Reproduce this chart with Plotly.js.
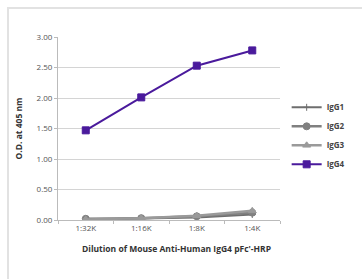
<!DOCTYPE html>
<html><head><meta charset="utf-8">
<script src="https://cdn.plot.ly/plotly-3.0.1.min.js"></script>
<style>
html,body{margin:0;padding:0;background:#fff;overflow:hidden;}
#frame{position:absolute;left:7px;top:7px;width:420px;height:340px;border:2px solid #e2e2e2;}
#chart{position:absolute;left:0;top:0;width:362px;height:279px;}
</style></head>
<body>
<div id="frame"></div>
<div id="chart"></div>
<script>
const categories = ["1:32K", "1:16K", "1:8K", "1:4K"];
const seriesNames = ["IgG1", "IgG2", "IgG3", "IgG4"];
const igg1 = [0.01, 0.02, 0.04, 0.09];
const igg2 = [0.02, 0.03, 0.06, 0.12];
const igg3 = [0.01, 0.03, 0.07, 0.15];
const igg4 = [1.47, 2.01, 2.53, 2.78];
const yTicks = [0, 0.5, 1, 1.5, 2, 2.5, 3];
const yTickText = ["0.00", "0.50", "1.00", "1.50", "2.00", "2.50", "3.00"];

const styles = [
  {color: "#6e6e6e", symbol: "cross-thin-open", size: 5, lw: 2},
  {color: "#808080", symbol: "circle", size: 7, lw: 2.5},
  {color: "#9a9a9a", symbol: "triangle-up", size: 7, lw: 2.5},
  {color: "#4a1a9c", symbol: "square", size: 7, lw: 2}
];
const values = [igg1, igg2, igg3, igg4];
const traces = values.map((v, i) => ({
  x: categories, y: v, name: seriesNames[i], type: "scatter", mode: "lines+markers",
  line: {color: styles[i].color, width: styles[i].lw},
  marker: {color: styles[i].color, symbol: styles[i].symbol, size: styles[i].size,
           line: {color: styles[i].color, width: 1}}
}));

const font = "'Open Sans', 'DejaVu Sans', sans-serif";
const layout = {
  width: 362, height: 279,
  margin: {l: 58, r: 59, t: 37, b: 59},
  paper_bgcolor: "rgba(0,0,0,0)", plot_bgcolor: "#fff",
  font: {family: font, size: 8, color: "#555"},
  showlegend: true,
  legend: {x: 1.03, xanchor: "left", y: 0.46, yanchor: "middle",
           font: {family: font, size: 8, color: "#444", weight: "bold"},
           itemwidth: 30, tracegroupgap: 0, bgcolor: "rgba(0,0,0,0)"},
  xaxis: {type: "category", range: [-0.5, 3.5], showgrid: false, zeroline: false,
          showline: true, linecolor: "#bbb", linewidth: 1,
          ticks: "outside", tickson: "boundaries", ticklen: 3, tickcolor: "#bbb",
          tickfont: {family: font, size: 8, color: "#555"}},
  yaxis: {range: [0, 3], tickvals: yTicks, ticktext: yTickText, showgrid: true,
          gridcolor: "#d4d4d4", gridwidth: 1, zeroline: false,
          showline: true, linecolor: "#bbb", linewidth: 1,
          ticks: "outside", ticklen: 3, tickcolor: "#bbb",
          tickfont: {family: font, size: 8, color: "#555"},
          title: {text: "O.D. at 405 nm", standoff: 12,
                  font: {family: font, size: 8.5, color: "#333", weight: "bold"}}},
  annotations: [{text: "Dilution of Mouse Anti-Human IgG4 pFc'-HRP", xref: "paper", yref: "paper",
                 x: 0.535, y: -0.155, xanchor: "center", yanchor: "middle", showarrow: false,
                 font: {family: font, size: 8.5, color: "#333", weight: "bold"}}]
};
Plotly.newPlot("chart", traces, layout, {displayModeBar: false, staticPlot: true});
</script>
</body></html>
